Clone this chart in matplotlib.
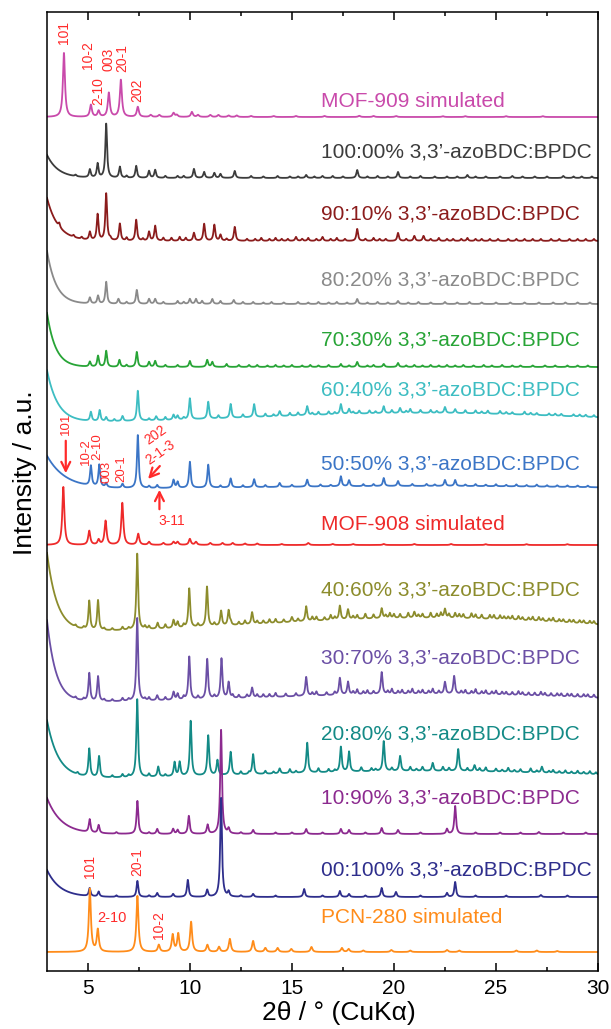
import numpy as np
import matplotlib
matplotlib.use("Agg")
import matplotlib.pyplot as plt
from matplotlib.ticker import MultipleLocator

plt.rcParams['font.family'] = ['Liberation Sans', 'DejaVu Sans']

# --- data: peak lists (2theta, height in a.u.) ---
two_theta = np.linspace(3, 30, 5401)

mof909_peaks = [(3.83, 64), (5.15, 12), (5.53, 6), (6.03, 24), (6.62, 37), (7.45, 10),
                (8.08, 2), (8.5, 2), (9.2, 4), (9.36, 2), (10.1, 5), (10.4, 2), (11.0, 2),
                (11.4, 2), (11.9, 1.5), (12.3, 1.5), (13.0, 1), (14.1, 1), (15.2, 1),
                (16.6, 1), (18.3, 1.2), (19.0, 1), (20.1, 1), (22.4, 0.8), (23.5, 0.8),
                (25.5, 0.8), (27.3, 0.8)]
mof909_noise = []

s100_peaks = [(5.1, 8), (5.48, 14), (5.9, 54), (6.57, 11), (7.37, 12), (8.0, 7), (8.3, 8),
              (10.2, 9), (10.7, 6), (11.2, 5), (11.5, 4), (12.2, 7), (15.7, 3), (16.5, 2),
              (18.2, 8), (20.2, 6), (23.6, 3), (25.8, 2), (28.3, 2)]
s100_noise = [(4.4, 1.5), (6.9, 2), (8.8, 2), (9.4, 2), (9.7, 2), (13.0, 2), (13.6, 1.5),
              (14.3, 2), (14.9, 1.5), (15.3, 1.5), (16.1, 1.5), (17.0, 2), (17.5, 1.5),
              (18.7, 1.5), (19.2, 2), (19.7, 1.5), (20.8, 1.5), (21.3, 2), (22.0, 1.5),
              (22.6, 1.5), (23.1, 1.5), (24.0, 1.5), (24.5, 1.5), (25.2, 1.5), (26.3, 1.5),
              (26.9, 1.5), (27.5, 1.5), (28.8, 1.5), (29.2, 1.5), (29.7, 1.5)]

s90_peaks = [(5.1, 8), (5.48, 26), (5.9, 47), (6.57, 17), (7.37, 21), (8.0, 9), (8.3, 15),
             (10.2, 8), (10.7, 17), (11.2, 16), (11.5, 6), (12.2, 14), (15.2, 4), (16.5, 4),
             (18.2, 12), (20.2, 8), (21.0, 5), (21.45, 5)]
s90_noise = [(3.6, 4), (4.3, 2), (4.7, 2), (6.1, 2), (6.9, 3), (7.7, 2), (8.7, 3), (9.1, 3),
             (9.5, 4), (9.8, 3), (11.8, 2), (12.8, 2), (13.2, 2), (13.5, 3), (13.9, 2),
             (14.2, 3), (14.5, 2), (14.8, 2), (15.5, 2), (15.8, 3), (16.2, 2), (16.9, 2),
             (17.2, 3), (17.6, 2), (18.6, 2), (19.0, 3), (19.3, 2), (19.6, 2), (20.6, 2),
             (21.8, 2), (22.2, 3), (22.6, 2), (22.9, 2), (23.3, 2), (23.6, 3), (24.0, 2),
             (24.3, 2), (24.7, 2), (25.1, 2), (25.6, 2), (26.0, 2), (26.4, 2), (26.8, 2),
             (27.2, 2), (27.7, 2), (28.1, 2), (28.6, 2), (29.0, 2), (29.4, 2), (29.8, 2)]

s80_peaks = [(5.1, 6), (5.5, 8), (5.9, 22), (6.5, 5), (7.4, 14), (8.0, 5), (8.3, 5),
             (10.0, 5), (10.3, 5), (11.1, 5), (12.15, 4), (18.2, 5), (20.2, 3)]
s80_noise = [(6.9, 2), (8.7, 2), (9.4, 3), (9.7, 2), (10.6, 3), (11.5, 3), (12.6, 2),
             (13.1, 2), (13.6, 1.5), (14.0, 2), (14.6, 1.5), (15.3, 2), (15.8, 1.5),
             (16.3, 2), (16.8, 1.5), (17.2, 2), (17.7, 1.5), (18.7, 1.5), (19.2, 2),
             (19.7, 1.5), (20.7, 1.5), (21.2, 2), (21.8, 1.5), (22.5, 2), (23.1, 1.5),
             (23.7, 2), (24.3, 1.5), (25.0, 1.5), (25.7, 1.5), (26.4, 1.5), (27.1, 1.5),
             (27.8, 1.5), (28.4, 1.5), (29.0, 1.5), (29.6, 1.5)]

s70_peaks = [(5.1, 5), (5.5, 11), (5.9, 16), (6.55, 7), (7.4, 15), (8.0, 5), (8.3, 6),
             (10.0, 6), (10.85, 7), (11.1, 5), (18.2, 5), (19.5, 3), (20.2, 4)]
s70_noise = [(6.9, 2), (8.8, 2), (9.4, 2), (11.8, 3), (12.4, 2), (12.9, 2), (13.3, 2),
             (13.8, 1.5), (14.2, 2), (14.6, 1.5), (15.0, 2), (15.5, 1.5), (15.9, 2),
             (16.3, 1.5), (16.8, 2), (17.4, 3), (17.8, 1.5), (18.7, 1.5), (19.0, 2),
             (20.6, 1.5), (21.0, 2), (21.4, 1.5), (21.8, 2), (22.2, 1.5), (22.6, 2),
             (23.0, 1.5), (23.4, 2), (23.9, 1.5), (24.4, 2), (24.8, 1.5), (25.3, 2),
             (25.8, 1.5), (26.2, 1.5), (26.8, 1.5), (27.4, 1.5), (27.9, 1.5), (28.5, 1.5),
             (29.0, 1.5), (29.5, 1.5)]

s60_peaks = [(5.15, 9), (5.58, 11), (5.9, 4), (6.7, 5), (7.45, 30), (8.35, 4), (9.2, 5),
             (9.4, 4), (10.0, 21), (10.9, 17), (12.0, 14), (13.15, 13), (14.4, 5),
             (15.75, 9), (17.4, 10), (17.8, 5), (19.5, 7), (20.3, 5), (22.5, 6), (23.0, 4)]
s60_noise = [(6.3, 2), (8.0, 2), (8.8, 3), (9.7, 2), (11.4, 3), (12.6, 3), (13.7, 3),
             (14.1, 2), (14.9, 3), (15.3, 3), (16.0, 2), (16.3, 3), (16.8, 3), (17.1, 2),
             (18.0, 2), (18.3, 3), (18.8, 3), (19.1, 2), (19.9, 3), (20.6, 2), (20.8, 4),
             (21.3, 3), (21.8, 3), (22.1, 2), (23.5, 3), (24.0, 3), (24.3, 2), (24.6, 3),
             (25.2, 3), (25.5, 2), (25.8, 2), (26.4, 3), (26.7, 2), (27.0, 2), (27.6, 2),
             (27.9, 2), (28.2, 2), (28.8, 2), (29.1, 2), (29.4, 2), (29.8, 2)]

s50_peaks = [(5.15, 20), (5.56, 22), (5.9, 4), (6.7, 4), (7.45, 53), (8.4, 3), (9.2, 8),
             (9.4, 6), (10.0, 26), (10.9, 23), (12.0, 9), (13.15, 8), (14.4, 4), (15.75, 7),
             (17.4, 10), (17.8, 6), (19.5, 8), (20.2, 5), (22.5, 6), (23.0, 6)]
s50_noise = [(8.0, 2), (11.5, 2), (12.6, 2), (13.7, 2), (15.0, 2), (16.4, 2), (16.9, 1.5),
             (18.5, 2), (19.0, 2), (20.9, 2), (21.6, 2), (22.0, 1.5), (23.5, 1.5), (24.0, 2),
             (24.5, 1.5), (25.0, 2), (25.5, 1.5), (26.0, 2), (26.5, 1.5), (27.0, 2),
             (27.5, 1.5), (28.0, 1.5), (28.5, 1.5), (29.0, 1.5), (29.5, 1.5)]

mof908_peaks = [(3.8, 58), (5.07, 14), (5.53, 5), (5.87, 24), (6.69, 42), (7.47, 11),
                (8.0, 3), (8.7, 2), (9.2, 3), (9.4, 3), (10.0, 6), (10.3, 3), (11.0, 2),
                (11.6, 2), (12.1, 2), (12.7, 1.5), (13.3, 1.5), (14.5, 1), (15.8, 2),
                (17.0, 1), (18.0, 1), (19.5, 1), (21.0, 1), (22.8, 1), (24.5, 0.8),
                (26.5, 0.8), (28.5, 0.8)]
mof908_noise = []

s40_peaks = [(5.07, 29), (5.5, 30), (7.42, 76), (8.42, 6), (9.2, 8), (9.4, 6), (9.97, 39),
             (10.84, 40), (11.53, 15), (11.9, 15), (13.05, 12), (15.0, 5), (15.7, 15),
             (17.35, 14), (17.75, 10), (19.4, 10), (21.0, 6), (22.5, 9)]
s40_noise = [(4.4, 2), (4.8, 2), (5.8, 2), (6.2, 2), (6.7, 3), (7.0, 2), (7.8, 3), (8.0, 3),
             (8.8, 4), (9.7, 3), (10.4, 3), (11.2, 3), (12.0, 3), (12.4, 3), (12.7, 4),
             (13.3, 3), (13.6, 3), (13.9, 4), (14.2, 4), (14.6, 3), (15.3, 3), (16.0, 4),
             (16.2, 4), (16.6, 3), (16.9, 5), (17.1, 3), (18.0, 3), (18.2, 4), (18.6, 5),
             (19.0, 4), (19.6, 3), (19.8, 5), (20.0, 4), (20.3, 4), (20.7, 5), (21.2, 3),
             (21.4, 4), (21.8, 5), (22.1, 4), (22.3, 5), (22.7, 4), (23.0, 5), (23.2, 4),
             (23.4, 4), (23.8, 5), (24.0, 4), (24.3, 4), (24.7, 4), (24.9, 4), (25.2, 4),
             (25.4, 3), (25.6, 3), (25.8, 4), (26.1, 4), (26.3, 3), (26.6, 3), (26.8, 4),
             (27.1, 4), (27.3, 3), (27.6, 3), (27.8, 4), (28.1, 3), (28.3, 3), (28.6, 3),
             (28.8, 3), (29.1, 3), (29.3, 3), (29.6, 3), (29.8, 3)]

s30_peaks = [(5.07, 28), (5.5, 25), (7.42, 83), (8.4, 5), (9.2, 8), (9.4, 6), (9.97, 43),
             (10.85, 40), (11.55, 40), (11.9, 16), (13.05, 10), (15.7, 19), (17.35, 17),
             (17.75, 13), (19.4, 22), (22.5, 12), (22.95, 18)]
s30_noise = [(4.4, 2), (4.8, 2), (5.8, 2), (6.2, 2), (6.7, 3), (7.0, 2), (7.8, 2), (8.0, 3),
             (8.8, 3), (9.7, 3), (10.4, 3), (11.2, 3), (12.1, 3), (12.4, 3), (12.8, 3),
             (13.3, 3), (13.6, 3), (13.9, 3), (14.2, 4), (14.7, 3), (15.2, 3), (16.0, 3),
             (16.2, 4), (16.7, 3), (17.1, 3), (18.0, 3), (18.2, 5), (18.5, 3), (18.7, 4),
             (19.0, 3), (19.7, 3), (19.9, 5), (20.2, 3), (20.4, 4), (20.7, 3), (20.9, 5),
             (21.2, 3), (21.4, 4), (21.7, 3), (21.9, 5), (22.2, 3), (23.3, 3), (23.5, 4),
             (23.8, 3), (24.0, 5), (24.3, 3), (24.5, 4), (24.8, 3), (25.0, 4), (25.3, 3),
             (25.5, 3), (25.8, 3), (26.1, 4), (26.3, 3), (26.6, 3), (26.9, 3), (27.2, 4),
             (27.4, 3), (27.7, 3), (28.0, 3), (28.2, 3), (28.5, 3), (28.7, 3), (29.0, 3),
             (29.3, 3), (29.5, 3), (29.8, 3)]

s20_peaks = [(5.07, 28), (5.55, 21), (7.42, 78), (8.45, 10), (9.25, 14), (9.5, 14),
             (10.04, 55), (10.9, 40), (11.35, 15), (12.0, 23), (13.1, 20), (14.4, 5),
             (15.75, 30), (17.4, 25), (17.8, 20), (19.5, 30), (20.3, 15), (21.9, 8),
             (23.15, 22), (23.95, 6), (27.25, 6)]
s20_noise = [(4.5, 2), (6.2, 2), (6.7, 3), (7.0, 2), (8.0, 3), (8.8, 2), (12.5, 3), (12.9, 2),
             (13.7, 3), (14.1, 2), (14.9, 4), (15.2, 2), (16.3, 4), (16.8, 3), (17.1, 2),
             (18.4, 4), (18.9, 3), (19.1, 2), (19.9, 3), (20.8, 4), (21.1, 2), (21.4, 4),
             (22.4, 4), (22.7, 3), (23.6, 3), (24.2, 3), (24.5, 4), (25.0, 3), (25.3, 2),
             (25.6, 4), (25.9, 2), (26.2, 3), (26.7, 4), (27.0, 2), (27.6, 2), (27.8, 3),
             (28.1, 2), (28.4, 3), (28.7, 2), (29.0, 3), (29.3, 2), (29.6, 3), (29.9, 2)]

s10_peaks = [(5.09, 13), (5.53, 8), (7.43, 33), (8.4, 5), (9.18, 5), (9.4, 4), (9.95, 18),
             (10.87, 9), (11.53, 104), (11.9, 5), (13.1, 4), (15.7, 5), (17.4, 5),
             (17.8, 4), (19.4, 6), (20.2, 4), (22.6, 5), (23.0, 28), (27.1, 2)]
s10_noise = [(6.4, 1.5), (8.0, 1.5), (12.5, 1.5), (14.2, 1.5), (15.0, 1.5), (16.5, 1.5),
             (18.6, 1.5), (21.3, 1.5), (24.0, 1.5), (25.2, 1.5), (26.2, 1.5), (28.3, 1.5),
             (29.4, 1.5)]

s00_peaks = [(5.09, 8), (5.53, 5), (7.43, 16), (8.4, 4), (9.18, 3), (9.9, 17), (10.85, 7),
             (11.53, 99), (11.9, 5), (13.1, 3), (15.6, 8), (17.35, 6), (17.8, 3), (19.4, 9),
             (20.1, 5), (22.6, 4), (23.0, 15), (27.2, 2)]
s00_noise = [(6.4, 1.5), (8.0, 1.5), (12.5, 1.5), (14.2, 1.5), (16.5, 1.5), (18.6, 1.5),
             (21.3, 1.5), (24.0, 1.5), (25.5, 1.5), (28.5, 1.5)]

pcn280_peaks = [(5.1, 63), (5.49, 22), (7.43, 56), (8.48, 7), (9.16, 17), (9.43, 18),
                (10.06, 30), (10.86, 7), (11.43, 5), (11.96, 13), (13.1, 11), (13.7, 4),
                (14.3, 4), (14.97, 3), (15.96, 5), (17.45, 4), (17.78, 3), (18.5, 1.5),
                (19.87, 2), (20.8, 1.5), (22.6, 2), (23.2, 1.5), (26.0, 1.5), (27.0, 1.5),
                (28.0, 1)]
pcn280_noise = []

labels = ["MOF-909 simulated", "100:00% 3,3\u2019-azoBDC:BPDC", "90:10% 3,3\u2019-azoBDC:BPDC",
          "80:20% 3,3\u2019-azoBDC:BPDC", "70:30% 3,3\u2019-azoBDC:BPDC",
          "60:40% 3,3\u2019-azoBDC:BPDC", "50:50% 3,3\u2019-azoBDC:BPDC", "MOF-908 simulated",
          "40:60% 3,3\u2019-azoBDC:BPDC", "30:70% 3,3\u2019-azoBDC:BPDC",
          "20:80% 3,3\u2019-azoBDC:BPDC", "10:90% 3,3\u2019-azoBDC:BPDC",
          "00:100% 3,3\u2019-azoBDC:BPDC", "PCN-280 simulated"]
peak_sets = [mof909_peaks, s100_peaks, s90_peaks, s80_peaks, s70_peaks, s60_peaks, s50_peaks,
             mof908_peaks, s40_peaks, s30_peaks, s20_peaks, s10_peaks, s00_peaks, pcn280_peaks]
noise_sets = [mof909_noise, s100_noise, s90_noise, s80_noise, s70_noise, s60_noise, s50_noise,
              mof908_noise, s40_noise, s30_noise, s20_noise, s10_noise, s00_noise, pcn280_noise]
baselines = [854, 793, 730, 667, 604, 548, 482, 426, 338, 268, 192, 137, 74, 19]
low_angle_rise = [0, 23, 43, 53, 54, 52, 33, 0, 79, 82, 58, 36, 27, 0]
low_angle_decay = [1, 0.55, 0.55, 0.45, 0.42, 0.53, 0.9, 1, 0.5, 0.44, 0.56, 0.7, 0.63, 1]
hump_height = [0, 0, 0, 0, 0, 10, 3, 0, 15, 9, 8, 0, 0, 0]

# --- styles / layout ---
colors = ['#C94AAB', '#3C3C3C', '#8B1C1C', '#8A8A8A', '#27A436', '#3DBDC2', '#3B75C6',
          '#EE2A2A', '#8C8C2C', '#6B4FA5', '#138A86', '#8C2A8F', '#2E2E8C', '#FF8C1A']
label_baseline = [864, 814, 751, 686, 626, 576, 501, 441, 376, 308, 231, 168, 96, 48]
red = '#FF2A2A'


def pattern(peaks, noise, hwhm):
    y = np.zeros_like(two_theta)
    for c, h in peaks:
        y += h / (1 + ((two_theta - c) / hwhm) ** 2)
    for c, h in noise:
        y += h / (1 + ((two_theta - c) / 0.045) ** 2)
    return y


fig = plt.figure(figsize=(6.11, 10.29), dpi=100)
ax = fig.add_axes([47 / 611, 58 / 1029, 551 / 611, 959 / 1029])

for i in range(len(labels)):
    simulated = labels[i].endswith("simulated")
    y = pattern(peak_sets[i], noise_sets[i], 0.06 if simulated else 0.05)
    y += low_angle_rise[i] * np.exp(-(two_theta - 3) / low_angle_decay[i])
    y += hump_height[i] * np.exp(-((two_theta - 21.5) / 8.0) ** 2 / 2)
    ax.plot(two_theta, baselines[i] + y, color=colors[i], lw=1.3)
    ax.text(16.44, label_baseline[i], labels[i], color=colors[i], fontsize=15,
            ha='left', va='baseline')

# hkl annotations
fs = 10
for s, x, y in [("101", 3.83, 938), ("10-2", 5.02, 916), ("2-10", 5.5, 880),
                ("003", 6.03, 912), ("20-1", 6.7, 913), ("202", 7.42, 881)]:
    ax.text(x, y, s, color=red, fontsize=fs, rotation=90, ha='center', va='center')

for s, x, y in [("101", 3.92, 547), ("10-2", 4.9, 519), ("2-10", 5.48, 524),
                ("003", 5.92, 499), ("20-1", 6.62, 502)]:
    ax.text(x, y, s, color=red, fontsize=9.5, rotation=90, ha='center', va='center')
ax.text(8.3, 536, "202", color=red, fontsize=fs, rotation=35, ha='center', va='center')
ax.text(8.55, 519, "2-1-3", color=red, fontsize=fs, rotation=35, ha='center', va='center')
ax.text(9.1, 450, "3-11", color=red, fontsize=fs, ha='center', va='center')

arrow = dict(arrowstyle='->', color=red, lw=1.6, mutation_scale=16)
ax.annotate("", xy=(3.92, 495), xytext=(3.92, 533), arrowprops=arrow)
ax.annotate("", xy=(7.86, 490), xytext=(8.62, 507), arrowprops=arrow)
ax.annotate("", xy=(8.51, 484), xytext=(8.51, 459), arrowprops=arrow)

for s, x, y, rot in [("101", 5.1, 105, 90), ("20-1", 7.42, 109, 90),
                     ("2-10", 6.2, 53, 0), ("10-2", 8.5, 46, 90)]:
    ax.text(x, y, s, color=red, fontsize=10.5 if rot == 0 else fs, rotation=rot,
            ha='center', va='center')

ax.set_xlim(3, 30)
ax.set_ylim(0, 959)
ax.set_yticks([])
ax.xaxis.set_major_locator(MultipleLocator(5))
ax.xaxis.set_minor_locator(MultipleLocator(2.5))
ax.tick_params(axis='x', which='both', direction='in', top=True, width=1.1,
               labelsize=15, pad=6)
ax.tick_params(axis='x', which='major', length=6)
ax.tick_params(axis='x', which='minor', length=3)
for sp in ax.spines.values():
    sp.set_linewidth(1.1)

fig.text(339 / 611, 16 / 1029, "2\u03b8 / \u00b0 (CuK\u03b1)", fontsize=19,
         ha='center', va='center')
fig.text(25 / 611, 1 - 473 / 1029, "Intensity / a.u.", fontsize=19, rotation=90,
         ha='center', va='center')

fig.savefig("out.png", dpi=100)
